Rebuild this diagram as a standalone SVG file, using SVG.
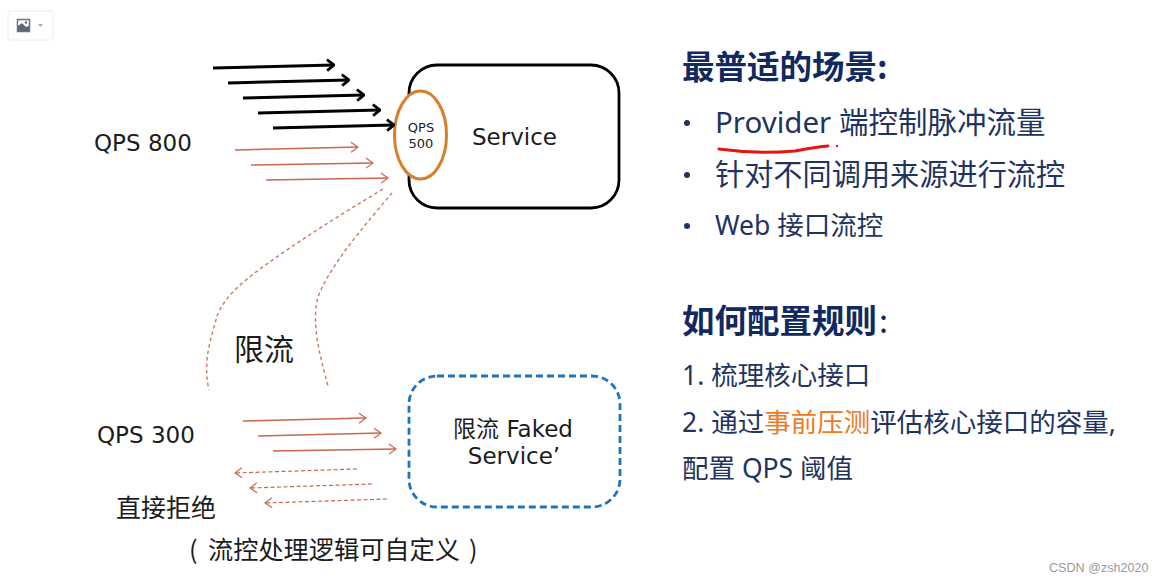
<svg xmlns="http://www.w3.org/2000/svg" width="1163" height="582" viewBox="0 0 1163 582">
<style>
.l{font-family:"DejaVu Sans","Noto Sans CJK SC",sans-serif;fill:#1c1c1c}
.c{font-family:"Noto Sans CJK SC",sans-serif;fill:#1c1c1c}
.r{font-family:"Noto Sans","Noto Sans CJK SC",sans-serif;fill:#1f3460}
.h{font-family:"Noto Sans CJK SC",sans-serif;fill:#12295f;font-size:32.5px;font-weight:700}
.b{stroke:#000;stroke-width:3;fill:none}
.o{stroke:#c9674c;stroke-width:1.4;fill:none}
.d{stroke:#c9674c;stroke-width:1.2;stroke-dasharray:4 2.5;fill:none}
.dc{stroke:#c77a66;stroke-width:1.4;stroke-dasharray:3.5 3;fill:none}
</style>
<defs>
<marker id="mb" viewBox="0 0 12 14" refX="11" refY="7" markerWidth="12" markerHeight="14" markerUnits="userSpaceOnUse" orient="auto"><path d="M4 1.500 11 7 4 12.500" fill="none" stroke="#000" stroke-width="2.800"/></marker>
<marker id="mo" viewBox="0 0 12 12" refX="11" refY="6" markerWidth="12" markerHeight="12" markerUnits="userSpaceOnUse" orient="auto"><path d="M4 1 11 6 4 11" fill="none" stroke="#c9674c" stroke-width="1.200"/></marker>
</defs>
<rect width="1163" height="582" fill="#fff"/>
<g id="toolbar">
<rect x="8" y="11" width="45" height="29" rx="2" fill="#fff" stroke="#eceef1"/>
<rect x="17.500" y="19.500" width="12" height="12" fill="#fff" stroke="#6b7280" stroke-width="1.500"/>
<path d="M18 31V26L22 23 26 27 29 26V31Z" fill="#5d6675"/><circle cx="26" cy="22.500" r="1.200" fill="#5d6675"/>
<path d="M38 24H43L40.500 27Z" fill="#aaaeb5"/>
</g>
<g id="service-node">
<rect x="409" y="65" width="210" height="143" rx="28" fill="#fff" stroke="#000" stroke-width="2.800"/>
<text x="472" y="145" class="l" font-size="23">Service</text>
</g>
<g id="qps500-node">
<ellipse cx="420.500" cy="135" rx="26" ry="44" fill="#fff" stroke="#d97f2b" stroke-width="3"/>
<text x="421" y="132" class="l" font-size="13" text-anchor="middle">QPS</text>
<text x="421" y="148" class="l" font-size="13" text-anchor="middle">500</text>
</g>
<g id="faked-node">
<rect x="409" y="376" width="211" height="131" rx="28" fill="#fff" stroke="#1f74bd" stroke-width="2.800" stroke-dasharray="7 4"/>
<text x="513" y="437" class="l" font-size="23" text-anchor="middle">限流 Faked</text>
<text x="514" y="464" class="l" font-size="23" text-anchor="middle">Service’</text>
</g>
<g id="connectors">
<path class="b" marker-end="url(#mb)" d="M213 68 334 65"/>
<path class="b" marker-end="url(#mb)" d="M228 83 349 80"/>
<path class="b" marker-end="url(#mb)" d="M243 98 364 95"/>
<path class="b" marker-end="url(#mb)" d="M258 113 380 110"/>
<path class="b" marker-end="url(#mb)" d="M273 128 394 125"/>
<path class="o" marker-end="url(#mo)" d="M235 150 358 147"/>
<path class="o" marker-end="url(#mo)" d="M251 165 373 163"/>
<path class="o" marker-end="url(#mo)" d="M266 180 388 178"/>
<path class="o" marker-end="url(#mo)" d="M243 421 366 418"/>
<path class="o" marker-end="url(#mo)" d="M258 436 381 433"/>
<path class="o" marker-end="url(#mo)" d="M273 451 396 449"/>
<path class="d" marker-end="url(#mo)" d="M357 469 235 473"/>
<path class="d" marker-end="url(#mo)" d="M372 484 250 488"/>
<path class="d" marker-end="url(#mo)" d="M387 499 265 503"/>
<path class="dc" d="M383 189C340 215 300 240 267 264C240 283 224 298 217 316C212 336 202 360 209 390"/>
<path class="dc" d="M392 193C365 225 330 265 318 297C311 325 320 355 328 386"/>
</g>
<g id="labels">
<text x="94" y="151" class="l" font-size="23">QPS 800</text>
<text x="97" y="443" class="l" font-size="23">QPS 300</text>
<text x="234" y="360" class="c" font-size="30">限流</text>
<text x="116" y="517" class="c" font-size="25">直接拒绝</text>
<text y="559" class="c" font-size="25.200"><tspan x="189">(</tspan><tspan x="208">流控处理逻辑可自定义</tspan><tspan x="469">)</tspan></text>
</g>
<g id="scenario-text">
<text x="682" y="79" class="h">最普适的场景:</text>
<circle cx="687" cy="123" r="3" fill="#1f3460"/>
<circle cx="687" cy="175" r="3" fill="#1f3460"/>
<circle cx="687" cy="226" r="3" fill="#1f3460"/>
<text x="715" y="133" class="r" font-size="29.500">Provider 端控制脉冲流量</text>
<text x="715" y="185" class="r" font-size="29.200">针对不同调用来源进行流控</text>
<text x="715" y="235" class="r" font-size="26.500">Web 接口流控</text>
<path d="M719 149C740 152 770 153 795 151C806 149 815 147 828 146" fill="none" stroke="#e5160f" stroke-width="3" stroke-linecap="round"/>
<circle cx="837" cy="146" r="1.200" fill="#e5160f"/>
</g>
<g id="rules-text">
<text x="682" y="333" class="h">如何配置规则<tspan x="879" font-weight="400">:</tspan></text>
<text x="682" y="385" class="r" font-size="26.500">1. 梳理核心接口</text>
<text x="682" y="432" class="r" font-size="26.500">2. 通过<tspan fill="#f07a1f">事前压测</tspan>评估核心接口的容量,</text>
<text x="682" y="478" class="r" font-size="26.500">配置 QPS 阈值</text>
</g>
<text id="watermark" x="1049" y="572" font-family="'Liberation Sans',sans-serif" font-size="12.600" fill="#9a9a9a">CSDN @zsh2020</text>
</svg>
